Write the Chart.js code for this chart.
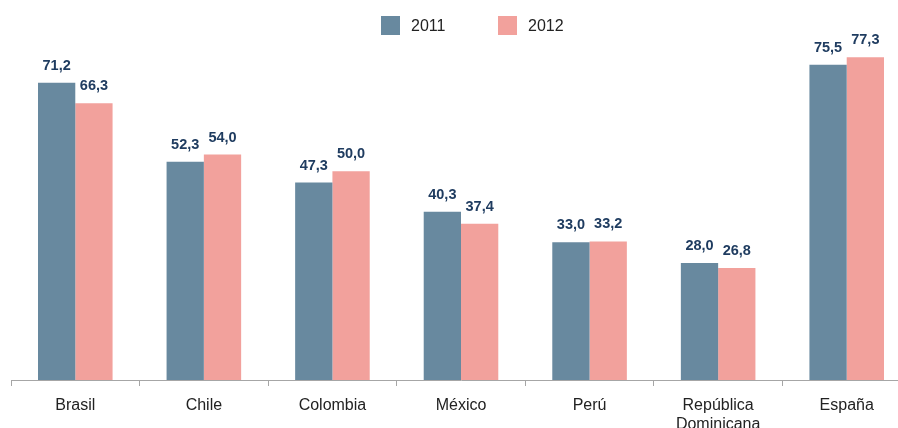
<!DOCTYPE html>
<html>
<head>
<meta charset="utf-8">
<script src="https://cdn.jsdelivr.net/npm/chart.js@4/dist/chart.umd.min.js"></script>
<style>
  html, body { margin: 0; padding: 0; background: #fff; overflow: hidden; width: 898px; height: 428px; }
  #wrap { position: relative; width: 914px; height: 428px; }
  #legend { position: absolute; top: 0; left: 0; width: 898px; height: 40px; font-family: "Liberation Sans", Arial, sans-serif; font-size: 16px; color: #222; }
  .lg { position: absolute; top: 16px; display: flex; align-items: center; }
  .sw { width: 19px; height: 19px; margin-right: 11px; }
</style>
</head>
<body>
<div id="wrap">
  <canvas id="c" width="914" height="428"></canvas>
  <div id="legend"></div>
</div>
<script>
const categories = ["Brasil", "Chile", "Colombia", "México", "Perú", ["República", "Dominicana"], "España"];
const series2011 = [71.2, 52.3, 47.3, 40.3, 33.0, 28.0, 75.5];
const series2012 = [66.3, 54.0, 50.0, 37.4, 33.2, 26.8, 77.3];
const seriesNames = ["2011", "2012"];
const colors = ["#68899f", "#f2a19c"];

// HTML legend
const legendEl = document.getElementById('legend');
const legendLeft = [381, 498];
seriesNames.forEach((n, i) => {
  const d = document.createElement('div');
  d.className = 'lg';
  d.style.left = legendLeft[i] + 'px';
  d.innerHTML = '<div class="sw" style="background:' + colors[i] + '"></div><span>' + n + '</span>';
  legendEl.appendChild(d);
});

const fmt = v => v.toFixed(1).replace('.', ',');

const valueLabels = {
  id: 'valueLabels',
  afterDatasetsDraw(chart) {
    const ctx = chart.ctx;
    ctx.save();
    ctx.font = 'bold 14.5px "Liberation Sans", Arial, sans-serif';
    ctx.fillStyle = '#1f3c60';
    ctx.textAlign = 'center';
    ctx.textBaseline = 'middle';
    chart.data.datasets.forEach((ds, di) => {
      const meta = chart.getDatasetMeta(di);
      meta.data.forEach((bar, i) => {
        ctx.fillText(fmt(ds.data[i]), bar.x, bar.y - 17);
      });
    });
    ctx.restore();
  }
};

new Chart(document.getElementById('c'), {
  type: 'bar',
  data: {
    labels: categories,
    datasets: [
      { label: seriesNames[0], data: series2011, backgroundColor: colors[0], categoryPercentage: 0.58, barPercentage: 1.0 },
      { label: seriesNames[1], data: series2012, backgroundColor: colors[1], categoryPercentage: 0.58, barPercentage: 1.0 }
    ]
  },
  options: {
    responsive: false,
    animation: false,
    events: [],
    layout: { padding: { left: 11, right: 3, top: 46, bottom: 0 } },
    plugins: { legend: { display: false }, tooltip: { enabled: false } },
    scales: {
      x: {
        grid: { display: true, drawOnChartArea: false, drawTicks: true, tickLength: 6, color: '#a6a6a6', offset: true },
        border: { display: true, color: '#a6a6a6', width: 1 },
        ticks: { color: '#222', font: { family: '"Liberation Sans", Arial, sans-serif', size: 16 }, padding: 10, maxRotation: 0, autoSkip: false },
        afterFit: s => { s.height = 48; }
      },
      y: { display: false, min: 0, max: 80 }
    }
  },
  plugins: [valueLabels]
});
</script>
</body>
</html>
